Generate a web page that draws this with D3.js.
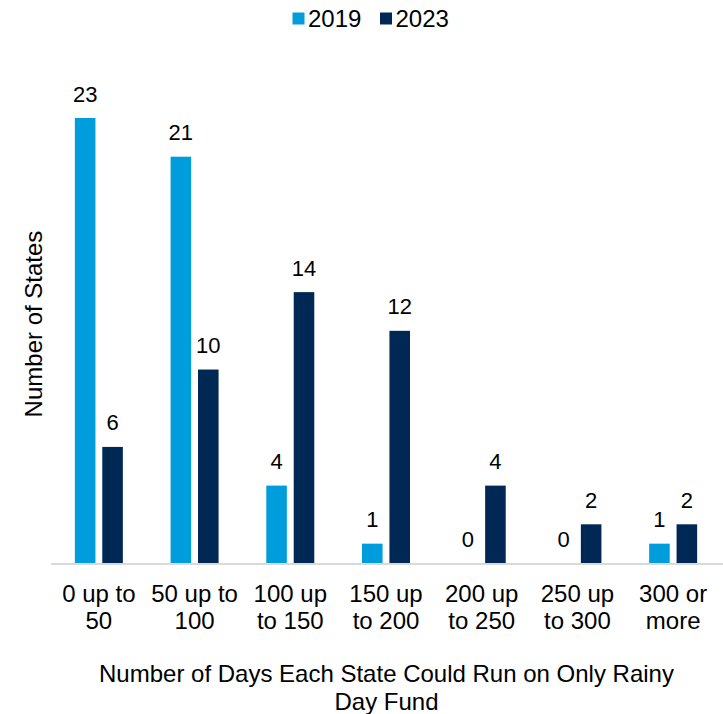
<!DOCTYPE html>
<html>
<head>
<meta charset="utf-8">
<script src="https://cdn.jsdelivr.net/npm/d3@7"></script>
<style>
  html, body { margin: 0; padding: 0; background: #fff; }
  svg { display: block; font-family: "Liberation Sans", Arial, sans-serif; }
</style>
</head>
<body>
<svg id="chart" width="723" height="714"></svg>
<script>
const categories = [
  ["0 up to", "50"],
  ["50 up to", "100"],
  ["100 up", "to 150"],
  ["150 up", "to 200"],
  ["200 up", "to 250"],
  ["250 up", "to 300"],
  ["300 or", "more"]
];
const seriesNames = ["2019", "2023"];
const values2019 = [23, 21, 4, 1, 0, 0, 1];
const values2023 = [6, 10, 14, 12, 4, 2, 2];
const colors = ["#009DDC", "#002855"];
const yTitle = "Number of States";
const xTitle = ["Number of Days Each State Could Run on Only Rainy", "Day Fund"];

const svg = d3.select("#chart");
const fontSize = 24;
const labelSize = 22;

const x = d3.scaleBand().domain(d3.range(categories.length)).range([51, 721]).paddingInner(0).paddingOuter(0);
const xSub = d3.scaleBand().domain(seriesNames).range([x.bandwidth()/2 - 24, x.bandwidth()/2 + 24]).paddingInner(0.25);
const y = d3.scaleLinear().domain([0, 23]).range([563, 118]);

const series = [values2019, values2023];

const groups = svg.append("g").selectAll("g")
  .data(categories.map((c, i) => i))
  .join("g")
  .attr("transform", i => `translate(${x(i)},0)`);

seriesNames.forEach((name, si) => {
  groups.append("rect")
    .attr("x", xSub(name))
    .attr("width", xSub.bandwidth())
    .attr("y", i => y(series[si][i]))
    .attr("height", i => y(0) - y(series[si][i]))
    .attr("fill", colors[si]);
  groups.append("text")
    .attr("x", xSub(name) + xSub.bandwidth()/2)
    .attr("y", i => y(series[si][i]) - 16.5)
    .attr("text-anchor", "middle")
    .attr("font-size", labelSize)
    .attr("fill", "#000")
    .text(i => series[si][i]);
});

// x axis line
svg.append("line")
  .attr("x1", 51).attr("x2", 723)
  .attr("y1", y(0) + 1).attr("y2", y(0) + 1)
  .attr("stroke", "#d9d9d9").attr("stroke-width", 2);

// category labels
const catText = svg.append("g").selectAll("text")
  .data(categories)
  .join("text")
  .attr("x", (d, i) => x(i) + x.bandwidth()/2)
  .attr("y", 601.5)
  .attr("text-anchor", "middle")
  .attr("font-size", fontSize)
  .attr("fill", "#000");
catText.selectAll("tspan")
  .data(d => d)
  .join("tspan")
  .attr("x", function() { return d3.select(this.parentNode).attr("x"); })
  .attr("dy", (d, j) => j === 0 ? 0 : 27.5)
  .text(d => d);

// x title
svg.append("g").selectAll("text")
  .data(xTitle)
  .join("text")
  .attr("x", 386.5)
  .attr("y", (d, i) => 682 + i * 28)
  .attr("text-anchor", "middle")
  .attr("font-size", fontSize)
  .attr("fill", "#000")
  .text(d => d);

// y title
svg.append("text")
  .attr("transform", "translate(42,324) rotate(-90)")
  .attr("text-anchor", "middle")
  .attr("font-size", fontSize)
  .attr("fill", "#000")
  .text(yTitle);

// legend
const legendX = [292.5, 380];
seriesNames.forEach((name, si) => {
  svg.append("rect")
    .attr("x", legendX[si]).attr("y", 12.5)
    .attr("width", 12).attr("height", 12)
    .attr("fill", colors[si]);
  svg.append("text")
    .attr("x", legendX[si] + 15.5).attr("y", 27)
    .attr("font-size", fontSize)
    .attr("fill", "#000")
    .text(name);
});
</script>
</body>
</html>
